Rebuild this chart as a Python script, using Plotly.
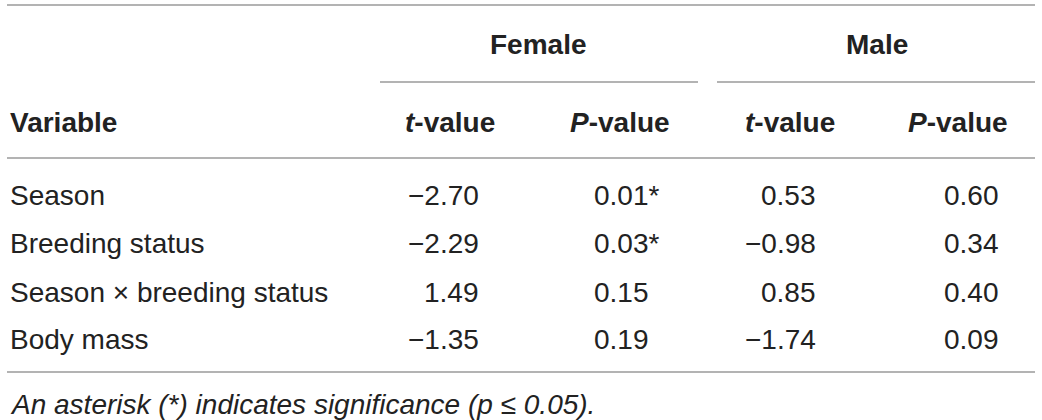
import plotly.graph_objects as go

variables = ["Season", "Breeding status", "Season \u00d7 breeding status", "Body mass"]
female_t = ["\u22122.70", "\u22122.29", "1.49", "\u22121.35"]
female_p = ["0.01*", "0.03*", "0.15", "0.19"]
male_t = ["0.53", "\u22120.98", "0.85", "\u22121.74"]
male_p = ["0.60", "0.34", "0.40", "0.09"]

groups = ["Female", "Male"]
col_headers = ["<b>Variable</b>", "<b><i>t</i>-value</b>", "<b><i>P</i>-value</b>",
               "<b><i>t</i>-value</b>", "<b><i>P</i>-value</b>"]
footnote = "<i>An asterisk (*) indicates significance (p \u2264 0.05).</i>"

FONT = "Liberation Sans, Arial, sans-serif"
TXT = "#222222"
LINE = "#9a9a9a"
SIZE = 28

row_y = [195, 243, 292, 339]
fig = go.Figure()
fig.add_trace(go.Scatter(x=[0, 1042], y=[0, 420], mode="markers",
                         marker=dict(opacity=0), hoverinfo="skip", showlegend=False))

ann = []


def txt(x, y, s, anchor):
    ann.append(dict(x=x, y=y, text=s, xanchor=anchor, yanchor="middle", showarrow=False,
                    xref="x", yref="y", font=dict(family=FONT, size=SIZE, color=TXT)))


# group headers
for g, cx in zip(groups, [538, 877]):
    txt(cx, 44, "<b>%s</b>" % g, "center")

# column headers
txt(8, 122, col_headers[0], "left")
for h, cx in zip(col_headers[1:], [450, 620, 790, 958]):
    txt(cx, 122, h, "center")

# body
for i, y in enumerate(row_y):
    txt(8, y, variables[i], "left")
    txt(481, y, female_t[i], "right")
    txt(592, y, female_p[i], "left")
    txt(818, y, male_t[i], "right")
    txt(1001, y, male_p[i], "right")

txt(8, 404, footnote, "left")

shapes = []
for x0, x1, y in [(7, 1035, 5), (380, 698, 82), (717, 1035, 82), (7, 1035, 158), (7, 1035, 372)]:
    shapes.append(dict(type="line", x0=x0, x1=x1, y0=y, y1=y, xref="x", yref="y",
                       line=dict(color=LINE, width=1.5)))

fig.update_layout(
    width=1042, height=420,
    margin=dict(l=0, r=0, t=0, b=0),
    paper_bgcolor="white", plot_bgcolor="white",
    annotations=ann, shapes=shapes,
    xaxis=dict(range=[0, 1042], visible=False, fixedrange=True),
    yaxis=dict(range=[420, 0], visible=False, fixedrange=True),
)

fig.write_html("out.html", config={"displayModeBar": False},
               post_script="document.body.style.margin='0';")
